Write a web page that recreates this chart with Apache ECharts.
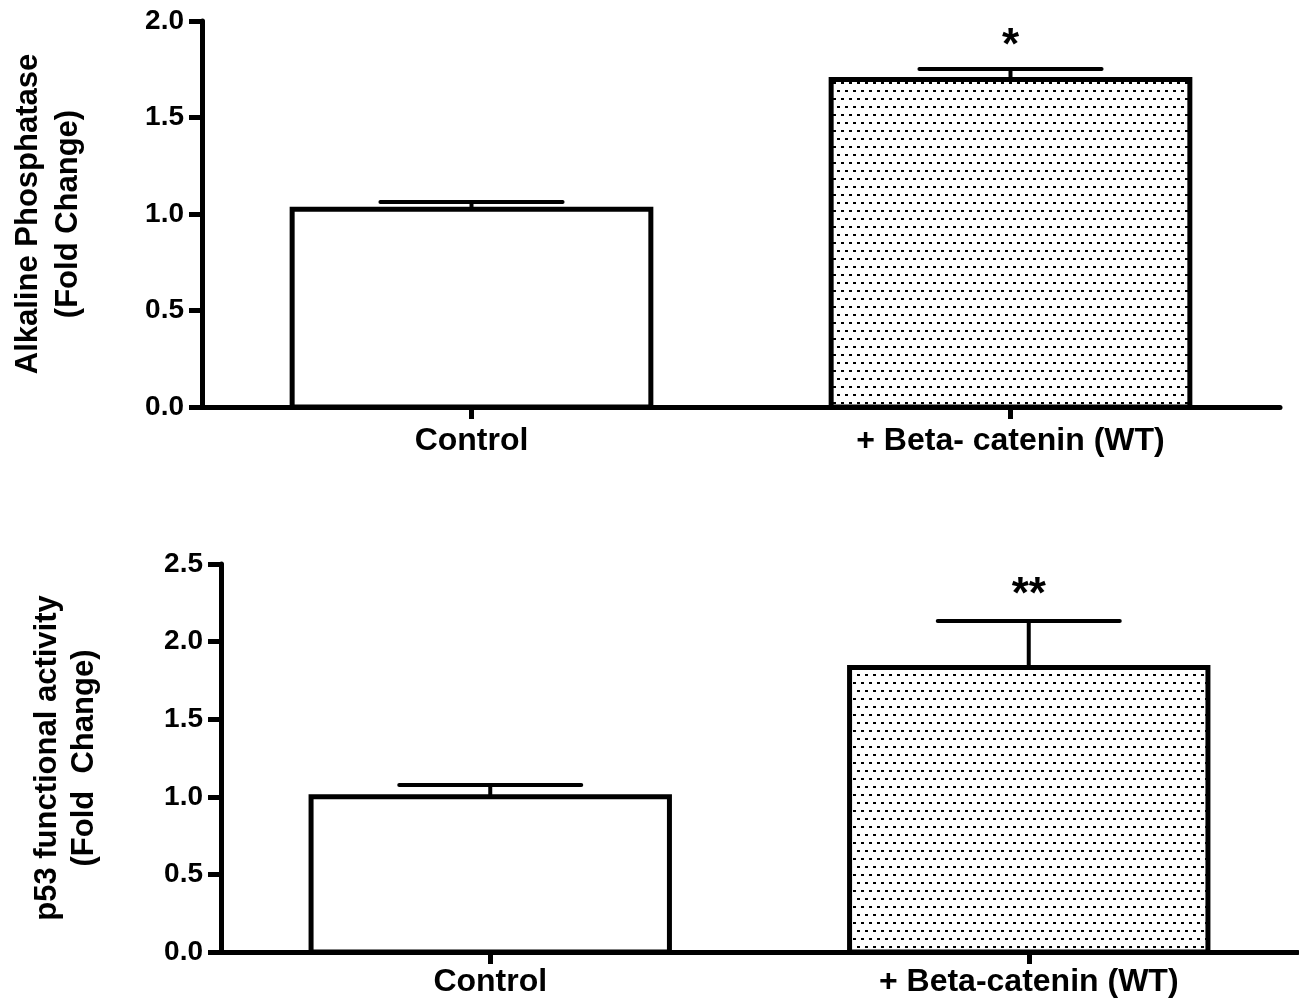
<!DOCTYPE html>
<html><head><meta charset="utf-8">
<script src="https://cdn.jsdelivr.net/npm/echarts@6/dist/echarts.min.js"></script>
<style>html,body{margin:0;padding:0;background:#fff}#c{width:1299px;height:998px}</style>
</head><body><div id="c"></div>
<script>
// ---- data ----
const categoriesTop = ['Control', '+ Beta- catenin (WT)'];
const categoriesBottom = ['Control', '+ Beta-catenin (WT)'];
const alpMean = [1.025, 1.697];
const alpErr = [0.037, 0.054];
const alpSig = ['', '*'];
const p53Mean = [1.0, 1.833];
const p53Err = [0.076, 0.30];
const p53Sig = ['', '**'];
const topAxis = { min: 0, max: 2.0, interval: 0.5 };
const bottomAxis = { min: 0, max: 2.5, interval: 0.5 };

const FONT = '"Liberation Sans", Arial, sans-serif';

// dotted pattern
const pc = document.createElement('canvas');
pc.width = 8; pc.height = 16;
const ctx = pc.getContext('2d');
ctx.fillStyle = '#fff'; ctx.fillRect(0, 0, 8, 16);
ctx.fillStyle = '#000';
ctx.fillRect(1, 2, 3, 2);
ctx.fillRect(5, 10, 3, 2);
const dotted = { image: pc, repeat: 'repeat' };

function pointData(means, errs) {
  return means.map((m, i) => errs ? [i, m, errs[i]] : [i, m]);
}
function barRender(params, api) {
  const x = api.value(0), m = api.value(1);
  const p0 = api.coord([x, 0]);
  const p1 = api.coord([x, m]);
  const w = api.size([1, 0])[0] * 0.6655;
  return {
    type: 'rect',
    shape: { x: p0[0] - w / 2, y: p1[1], width: w, height: p0[1] - p1[1] },
    style: { fill: params.dataIndex === 0 ? '#fff' : dotted, stroke: '#000', lineWidth: 5, lineJoin: 'miter' }
  };
}
function makeErrRender(sigs, sigOffset) {
  return function (params, api) {
    const x = api.value(0), m = api.value(1), e = api.value(2);
    const base = api.coord([x, m]);
    const top = api.coord([x, m + e]);
    const half = api.size([1, 0])[0] * 0.169;
    const children = [
      { type: 'line', shape: { x1: top[0], y1: base[1], x2: top[0], y2: top[1] },
        style: { stroke: '#000', lineWidth: 4 } },
      { type: 'line', shape: { x1: top[0] - half, y1: top[1], x2: top[0] + half, y2: top[1] },
        style: { stroke: '#000', lineWidth: 4, lineCap: 'round' } }
    ];
    const s = sigs[params.dataIndex];
    if (s) {
      children.push({ type: 'text', style: { text: s, x: top[0], y: top[1] - sigOffset,
        align: 'center', verticalAlign: 'middle', fontSize: 44, fontWeight: 'bold',
        fontFamily: FONT, fill: '#000' } });
    }
    return { type: 'group', children };
  };
}

function xAxisCfg(cats, grid, margin) {
  return {
    type: 'category', gridIndex: grid, data: cats,
    axisLine: { show: true, lineStyle: { color: '#000', width: 5 } },
    axisTick: { show: true, alignWithLabel: true, length: 12, lineStyle: { color: '#000', width: 5 } },
    axisLabel: { margin: margin, color: '#000', fontSize: 32, fontWeight: 'bold', fontFamily: FONT },
    splitLine: { show: false }
  };
}
function yAxisCfg(ax, grid, name, gap, lh) {
  return {
    type: 'value', gridIndex: grid, min: ax.min, max: ax.max, interval: ax.interval,
    name: name, nameLocation: 'middle', nameRotate: 90, nameGap: gap,
    nameTextStyle: { color: '#000', fontSize: 31, fontWeight: 'bold', fontFamily: FONT, lineHeight: lh },
    axisLine: { show: true, lineStyle: { color: '#000', width: 5 } },
    axisTick: { show: true, length: 13, lineStyle: { color: '#000', width: 5 } },
    axisLabel: { margin: 18, color: '#000', fontSize: 28, fontWeight: 'bold', fontFamily: FONT,
      formatter: v => v.toFixed(1) },
    splitLine: { show: false }
  };
}

const chart = echarts.init(document.getElementById('c'), null, { renderer: 'canvas' });
chart.setOption({
  backgroundColor: '#fff',
  animation: false,
  grid: [
    { left: 202, right: 19, top: 21, bottom: 998 - 407 },
    { left: 221, right: 1, top: 564, bottom: 998 - 952 }
  ],
  xAxis: [xAxisCfg(categoriesTop, 0, 18), xAxisCfg(categoriesBottom, 1, 14)],
  yAxis: [
    yAxisCfg(topAxis, 0, 'Alkaline Phosphatase\n(Fold Change)', 114, 40),
    yAxisCfg(bottomAxis, 1, 'p53 functional activity\n(Fold  Change)', 118, 37)
  ],
  series: [
    { type: 'custom', name: 'ALP', xAxisIndex: 0, yAxisIndex: 0, z: 2, encode: { x: 0, y: 1 },
      renderItem: barRender, data: pointData(alpMean) },
    { type: 'custom', name: 'ALP error', xAxisIndex: 0, yAxisIndex: 0, z: 3, encode: { x: 0, y: 1 },
      renderItem: makeErrRender(alpSig, 22), data: pointData(alpMean, alpErr) },
    { type: 'custom', name: 'p53', xAxisIndex: 1, yAxisIndex: 1, z: 2, encode: { x: 0, y: 1 },
      renderItem: barRender, data: pointData(p53Mean) },
    { type: 'custom', name: 'p53 error', xAxisIndex: 1, yAxisIndex: 1, z: 3, encode: { x: 0, y: 1 },
      renderItem: makeErrRender(p53Sig, 25), data: pointData(p53Mean, p53Err) }
  ]
});
</script>
</body></html>
